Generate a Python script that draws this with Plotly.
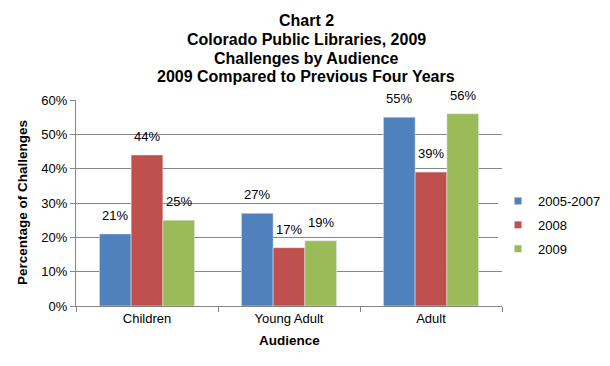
import plotly.graph_objects as go

categories = ["Children", "Young Adult", "Adult"]
series_names = ["2005-2007", "2008", "2009"]
values_2005_2007 = [0.21, 0.27, 0.55]
values_2008 = [0.44, 0.17, 0.39]
values_2009 = [0.25, 0.19, 0.56]
colors = ["#4F81BD", "#C0504D", "#9BBB59"]
y_ticks = [0, 0.1, 0.2, 0.3, 0.4, 0.5, 0.6]
title_lines = ["Chart 2", "Colorado Public Libraries, 2009",
               "Challenges by Audience", "2009 Compared to Previous Four Years"]
x_title = "Audience"
y_title = "Percentage of Challenges"

W, H = 610, 366
ML, MR, MT, MB = 76, 108, 100, 60
plot_h = H - MT - MB
plot_w = W - ML - MR
bargap = 0.33
bar_px = plot_w / len(categories) * (1 - bargap) / len(series_names)


def px_x(p):
    return (p - ML) / plot_w


def px_y(p):
    return (H - MB - p) / plot_h


all_series = [values_2005_2007, values_2008, values_2009]
fig = go.Figure()
for name, vals, col in zip(series_names, all_series, colors):
    fig.add_trace(go.Bar(
        x=categories, y=vals, name=name, marker_color=col,
        showlegend=False,
    ))
# legend entries with small square swatches
for name, col in zip(series_names, colors):
    fig.add_trace(go.Scatter(
        x=[None], y=[None], mode="markers", name=name,
        marker=dict(symbol="square", size=7, color=col),
        legendgroup=name,
    ))

annotations = []
for i, vals in enumerate(all_series):
    for cat, v in zip(categories, vals):
        annotations.append(dict(
            x=cat, y=v, xref="x", yref="y", text=f"{round(v*100)}%",
            showarrow=False, yanchor="bottom", yshift=9,
            xshift=(i - 1) * bar_px,
            font=dict(size=13, family="Arial", color="#000000"),
        ))

for j, line in enumerate(title_lines):
    py = 21 + j * 18.5
    annotations.append(dict(
        x=px_x(W / 2 + 1), xref="paper", y=px_y(py), yref="paper",
        xanchor="center", yanchor="middle", showarrow=False,
        text=f"<b>{line}</b>", font=dict(size=16, family="Arial", color="#000000"),
    ))

annotations.append(dict(
    x=px_x(289), xref="paper", y=px_y(340), yref="paper",
    xanchor="center", yanchor="middle", showarrow=False,
    text=f"<b>{x_title}</b>", font=dict(size=13.5, family="Arial", color="#000000"),
))
annotations.append(dict(
    x=px_x(22), xref="paper", y=px_y(203), yref="paper",
    xanchor="center", yanchor="middle", showarrow=False, textangle=-90,
    text=f"<b>{y_title}</b>", font=dict(size=13.5, family="Arial", color="#000000"),
))

fig.update_layout(
    width=W, height=H,
    paper_bgcolor="white", plot_bgcolor="white",
    font=dict(family="Arial", color="#000000"),
    barmode="group", bargap=bargap, bargroupgap=0,
    margin=dict(l=ML, r=MR, t=MT, b=MB, autoexpand=False),
    annotations=annotations,
    xaxis=dict(
        showline=True, linecolor="#868686", ticks="outside", ticklen=5, tickcolor="#868686",
        tickfont=dict(size=13), tickson="boundaries", automargin=False,
    ),
    yaxis=dict(
        range=[0, 0.6], tickvals=y_ticks, ticktext=[f"{round(t*100)}%" for t in y_ticks],
        showgrid=True, gridcolor="#868686", gridwidth=1,
        showline=True, linecolor="#868686", ticks="outside", ticklen=5, tickcolor="#868686",
        tickfont=dict(size=13), automargin=False,
        zeroline=False,
    ),
    legend=dict(x=px_x(498), y=px_y(225), xanchor="left", yanchor="middle",
                font=dict(size=13), tracegroupgap=4, itemwidth=30,
                traceorder="grouped", itemsizing="trace"),
    showlegend=True,
)

fig.write_html("out.html", config={"displayModeBar": False},
               post_script="document.body.style.margin='0';")
